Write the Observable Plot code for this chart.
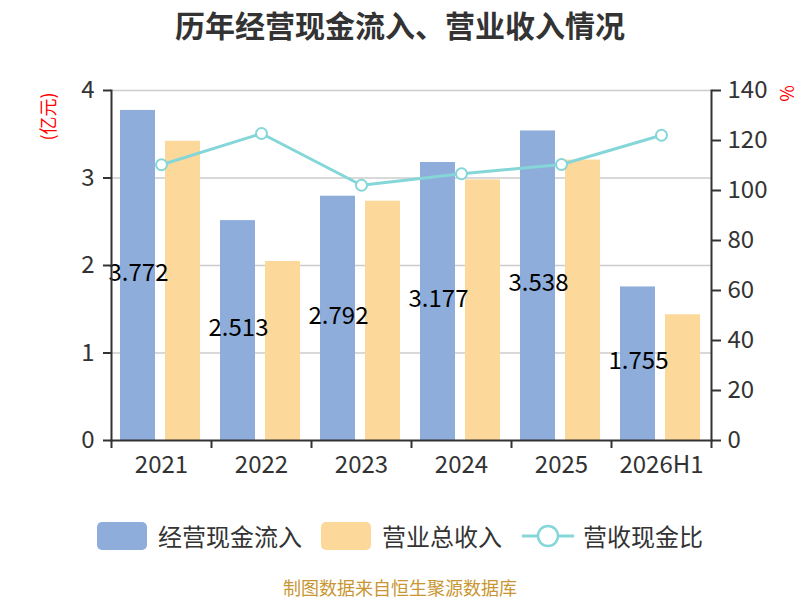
<!DOCTYPE html>
<html><head><meta charset="utf-8">
<script src="https://cdn.jsdelivr.net/npm/d3@7"></script>
<script src="https://cdn.jsdelivr.net/npm/@observablehq/plot@0.6"></script>
<style>
body{margin:0;width:800px;height:600px;position:relative;background:#fff;font-family:"Noto Sans CJK SC","Noto Sans",sans-serif;overflow:hidden}
#title{position:absolute;top:0;left:0;width:800px;text-align:center;font-size:30px;font-weight:bold;color:#333;line-height:48px}
#chart{position:absolute;top:50px;left:0}
.sw{position:absolute;top:522px;width:50px;height:28px;border-radius:5px}
.lt{position:absolute;top:522px;line-height:28px;font-size:24px;color:#333;white-space:nowrap}
#caption{position:absolute;top:577px;left:0;width:800px;text-align:center;font-size:18px;line-height:20px;color:#c89632}
</style></head><body>
<div id="title">历年经营现金流入、营业收入情况</div>
<div id="chart"></div>
<div class="sw" style="left:97px;background:#8eaddb"></div>
<div class="lt" style="left:158px">经营现金流入</div>
<div class="sw" style="left:321px;background:#fdd89b"></div>
<div class="lt" style="left:382px">营业总收入</div>
<svg style="position:absolute;left:522px;top:522px" width="52" height="28">
  <line x1="0" y1="14" x2="52" y2="14" stroke="#85d6d8" stroke-width="3"/>
  <circle cx="26" cy="14" r="10" fill="#fff" stroke="#85d6d8" stroke-width="2.5"/>
</svg>
<div class="lt" style="left:583px">营收现金比</div>
<div id="caption">制图数据来自恒生聚源数据库</div>
<script>
const years = ["2021", "2022", "2023", "2024", "2025", "2026H1"];
const cashIn = [3.772, 2.513, 2.792, 3.177, 3.538, 1.755];
const revenue = [3.42, 2.046, 2.735, 2.978, 3.205, 1.437];
const ratio = [110.3, 122.8, 102.1, 106.7, 110.4, 122.1];
const leftTicks = [0, 1, 2, 3, 4];
const rightTicks = [0, 20, 40, 60, 80, 100, 120, 140];

const toLeft = v => v * 4 / 140;
const data = years.map((y, i) => ({year: y, cash: cashIn[i], rev: revenue[i], ratio: ratio[i]}));
const font = '"Noto Sans CJK SC","Noto Sans",sans-serif';

const plot = Plot.plot({
  width: 800, height: 450,
  marginTop: 40, marginBottom: 60, marginLeft: 111, marginRight: 89,
  style: {fontFamily: font, fontSize: "24px", color: "#333", background: "transparent", overflow: "visible"},
  x: {type: "band", domain: years, padding: 0},
  y: {domain: [0, 4]},
  marks: [
    Plot.gridY([1, 2, 3, 4], {stroke: "#ccc", strokeOpacity: 1, strokeWidth: 1.5}),
    Plot.barY(data, {x: "year", y: "cash", fill: "#8eaddb", insetLeft: 9, insetRight: 56}),
    Plot.barY(data, {x: "year", y: "rev", fill: "#fdd89b", insetLeft: 54, insetRight: 11}),
    Plot.line(data, {x: "year", y: d => toLeft(d.ratio), stroke: "#85d6d8", strokeWidth: 3}),
    Plot.dot(data, {x: "year", y: d => toLeft(d.ratio), r: 5.5, fill: "white", stroke: "#85d6d8", strokeWidth: 2}),
    Plot.text(data, {x: "year", y: d => d.cash / 2, text: d => d.cash.toFixed(3), dx: -23, dy: -2, fill: "#000", fontSize: 24}),
    Plot.frame({anchor: "left", stroke: "#333", strokeWidth: 2}),
    Plot.frame({anchor: "right", stroke: "#333", strokeWidth: 2}),
    Plot.frame({anchor: "bottom", stroke: "#333", strokeWidth: 2}),
    Plot.axisY(leftTicks, {anchor: "left", tickSize: 8, tickPadding: 9, tickFormat: d => String(d), stroke: "#333", strokeWidth: 2, fill: "#333", fontSize: 24, label: null}),
    Plot.axisY(rightTicks.map(toLeft), {anchor: "right", tickSize: 9, tickPadding: 7, tickFormat: d => String(Math.round(d * 140 / 4)), stroke: "#333", strokeWidth: 2, fill: "#333", fontSize: 24, label: null}),
    Plot.axisX({tickSize: 0, tickPadding: 15, fill: "#333", fontSize: 24, label: null}),
    Plot.axisX({tickSize: 8, tickFormat: () => "", dx: -50, stroke: "#333", strokeWidth: 2, label: null}),
    Plot.axisX(["2026H1"], {tickSize: 8, tickFormat: () => "", dx: 50, stroke: "#333", strokeWidth: 2, label: null}),
    Plot.text(["(亿元)"], {frameAnchor: "top-left", dx: -62, dy: 26, rotate: -90, textAnchor: "middle", lineAnchor: "middle", fill: "red", fontSize: 18}),
    Plot.text(["%"], {frameAnchor: "top-right", dx: 77, dy: 3, rotate: -90, textAnchor: "middle", lineAnchor: "middle", fill: "red", fontSize: 18})
  ]
});
document.getElementById("chart").appendChild(plot);
</script>
</body></html>
